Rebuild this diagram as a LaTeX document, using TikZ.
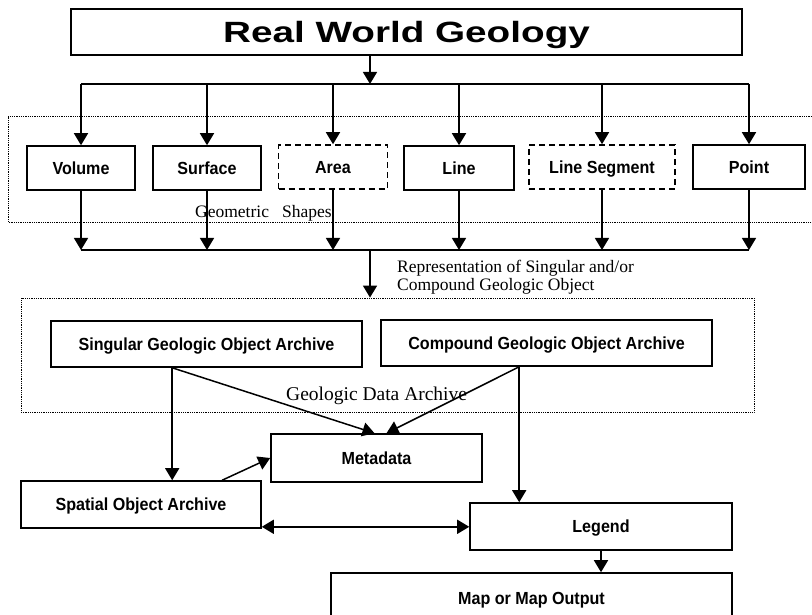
\documentclass[tikz,border=0pt]{standalone}
\usepackage{fontspec}
\setmainfont{Liberation Serif}
\newfontfamily\labelsans{Liberation Sans}[FakeStretch=0.92]
\newfontfamily\headsans{Liberation Sans}[FakeStretch=1.32]
\usepackage{tikz}
\usetikzlibrary{arrows.meta,positioning}

\begin{document}
\begin{tikzpicture}[x=1pt,y=-1pt,
  shapebox/.style={draw,line width=1.6pt,inner sep=0pt,minimum height=44pt,
    text height=12.6pt,text depth=0pt,
    font=\labelsans\bfseries\fontsize{17.5}{20}\selectfont},
  openbox/.style={shapebox,dash pattern=on 6pt off 4pt},
  groupbox/.style={draw,line width=0.8pt,dash pattern=on 0.9pt off 0.9pt},
  note/.style={inner sep=0pt,font=\fontsize{17.5}{18.5}\selectfont},
  feed/.style={line width=1.5pt,-{Triangle[width=14pt,length=12pt]}},
  dualfeed/.style={line width=1.5pt,{Triangle[width=14pt,length=12pt]}-{Triangle[width=14pt,length=12pt]}},
  bus/.style={line width=2pt}]
        \useasboundingbox (0,0) rectangle (812,615);

        % source
        \node[shapebox,minimum width=671pt,minimum height=46pt,text height=21pt,
          font=\headsans\bfseries\fontsize{29.3}{32}\selectfont] (world) at (406.5,32) {Real World Geology};

        % geometric shapes
        \draw[groupbox] (812,116) -| (8,222) -- (812,222);
        \node[shapebox,minimum width=108pt] (volume) at (81,168) {Volume};
        \node[shapebox,minimum width=108pt] (surface) at (207,168) {Surface};
        \node[openbox,minimum width=109pt] (area) at (333,167) {Area};
        \node[shapebox,minimum width=110pt] (line) at (459,168) {Line};
        \node[openbox,minimum width=146pt] (segment) at (602,167) {Line Segment};
        \node[shapebox,minimum width=112pt] (point) at (749,167) {Point};
        \node[note,anchor=base west] (shapes) at (195,218) {Geometric~~~Shapes};

        \coordinate (split) at (370,84);
        \coordinate (join) at (370,250);
        \draw[feed] (world.south -| split) -- (split);
        \draw[bus] (volume.north |- split) -- (point.north |- split);
        \draw[bus] (volume.south |- join) -- (point.south |- join);
        \foreach \s in {volume,surface,area,line,segment,point} {
          \draw[feed] (\s.north |- split) -- (\s.north);
          \draw[feed] (\s.south) -- (\s.south |- join);
        }

        % data archive
        \node[groupbox,minimum width=733pt,minimum height=114pt] (archive) at (387.5,355) {};
        \node[note,anchor=north west,align=left] (represent) at (397,259.5)
          {Representation of Singular and/or\\Compound Geologic Object};
        \draw[feed] (join) -- (join |- archive.north);
        \node[shapebox,minimum width=311pt,minimum height=46pt] (singular) at (206.5,344) {Singular Geologic Object Archive};
        \node[shapebox,minimum width=331pt,minimum height=46pt] (compound) at (546.5,343) {Compound Geologic Object Archive};
        \node[note,font=\fontsize{19.5}{21}\selectfont,anchor=base west] (archname) at (286,400) {Geologic Data Archive};

        % outputs
        \node[shapebox,minimum width=211pt,minimum height=48pt] (metadata) at (376.5,458) {Metadata};
        \node[shapebox,minimum width=240pt,minimum height=47pt] (spatial) at (141,504.5) {Spatial Object Archive};
        \node[shapebox,minimum width=262pt,minimum height=47pt] (legend) at (601,526.5) {Legend};
        \node[shapebox,minimum width=401pt,minimum height=50pt] (map) at (531.5,598) {Map or Map Output};

        \coordinate (sgl) at ([xshift=122pt]singular.south west);
        \coordinate (cmp) at ([xshift=139pt]compound.south west);
        \coordinate (dbl) at ([yshift=2pt]spatial.south east);
        \draw[feed] (sgl) -- (sgl |- spatial.north);
        \draw[feed] (sgl) -- ([xshift=-2pt]metadata.north);
        \draw[feed] (cmp) -- ([xshift=10pt]metadata.north);
        \draw[feed] (cmp) -- (cmp |- legend.north);
        \draw[feed] ([xshift=202pt]spatial.north west) -- (metadata.west);
        \draw[dualfeed] (dbl) -- (dbl -| legend.west);
        \draw[feed] (legend.south) -- (legend.south |- map.north);
      \end{tikzpicture}
\end{document}
